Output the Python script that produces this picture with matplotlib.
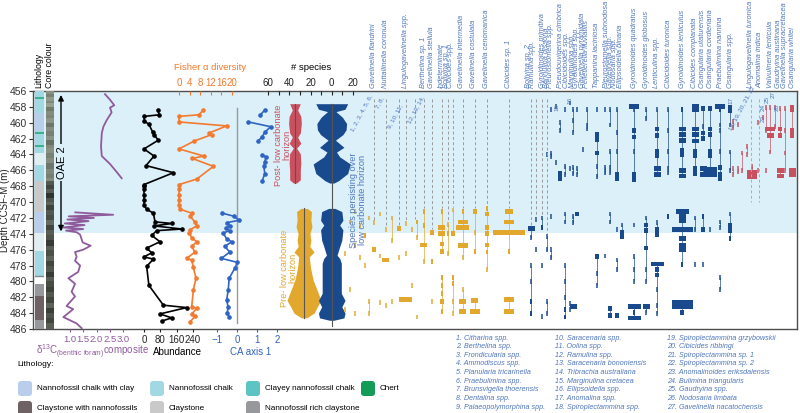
import numpy as np
import matplotlib
matplotlib.use("Agg")
import matplotlib.pyplot as plt
from matplotlib.patches import FancyBboxPatch

plt.rcParams['font.family'] = ['Liberation Sans', 'DejaVu Sans']
plt.rcParams['mathtext.fontset'] = 'custom'
plt.rcParams['mathtext.rm'] = 'Liberation Sans'

# colours
SHADE = '#dcf0f9'
PURPLE = '#8f5b9d'
ORANGE = '#f37a2e'
CA_BLUE = '#2f63c4'
RED = '#c9505f'
YELLOW = '#e2a72d'
NAVY = '#1a4a8e'
LABEL_BLUE = '#4f76bb'

W, H = 800, 413
TOP_PX, BOT_PX = 91, 329
D_TOP, D_BOT = 456, 486
OAE_BASE = 473.9

# ---------------- data ----------------
LITH_TOP = [456.0, 458.8, 461.1, 463.8, 465.3, 467.4, 471.3, 473.9, 476.2, 479.4, 480.3, 481.9, 484.9]
LITH_BOT = [458.8, 461.1, 463.8, 465.3, 467.4, 471.3, 473.9, 476.2, 479.4, 480.3, 481.9, 484.9, 486.0]
LITH_TYPE = ['chalk', 'chalk_clay', 'chalk', 'pale', 'chalk', 'claystone', 'chalk_clay',
             'pale', 'chalk', 'white', 'nrc', 'cwn', 'nrc']
CLAYEY_BANDS = [456.85, 461.3, 462.9]
LITH_COLORS = {'chalk_clay': '#b9cdec', 'chalk': '#a2d8e4', 'clayey': '#5cc5c3',
               'chert': '#139b58', 'cwn': '#6e6264', 'claystone': '#c9c9c9',
               'nrc': '#96989b', 'pale': '#e1eef0', 'white': '#ffffff'}
LITH_LEGEND = [("Nannofossil chalk with clay", 'chalk_clay'), ("Nannofossil chalk", 'chalk'),
               ("Clayey nannofossil chalk", 'clayey'), ("Chert", 'chert'),
               ("Claystone with nannofossils", 'cwn'), ("Claystone", 'claystone'),
               ("Nannofossil rich claystone", 'nrc')]

CORE_TOP = [456.0, 456.4, 456.7, 457.2, 457.5, 458.0, 458.5, 459.0, 459.4, 460.0,
            460.6, 461.1, 461.7, 462.2, 462.8, 463.2, 463.8, 464.5, 465.1, 465.8,
            466.4, 467.0, 467.3, 467.8, 468.3, 468.9, 469.5, 470.0, 470.4, 471.0,
            471.6, 472.2, 472.9, 473.5, 474.2, 474.8, 475.5, 476.1, 476.8, 477.4,
            478.1, 478.8, 479.4, 480.0, 480.7, 481.3, 482.0, 482.7, 483.3, 484.0,
            484.6, 485.3]
CORE_LIGHT = [0.62, 0.55, 0.66, 0.58, 0.68, 0.52, 0.60, 0.57, 0.64, 0.50,
              0.60, 0.55, 0.63, 0.48, 0.58, 0.62, 0.55, 0.60, 0.50, 0.58,
              0.54, 0.60, 0.38, 0.30, 0.40, 0.22, 0.36, 0.42, 0.28, 0.38,
              0.33, 0.45, 0.30, 0.40, 0.35, 0.25, 0.40, 0.34, 0.42, 0.30,
              0.37, 0.26, 0.40, 0.33, 0.28, 0.38, 0.30, 0.42, 0.27, 0.36,
              0.30, 0.40]

D13C_DEPTH = [456.4, 457.1, 457.8, 458.1, 458.7, 459.7, 460.5, 461.3, 463.0, 464.2, 465.2,
              466.2, 467.0, np.nan, 471.3, 471.6, 471.8, 472.0, 472.2, 472.4, 472.7, 472.9,
              473.2, 473.4, 473.6, 473.8, 474.1, 475.1, 475.5, 476.0, 476.3, 476.9, 477.4,
              478.0, 478.8, 479.6, 480.3, 481.3, 481.9, 483.1, 483.5, 484.5, 485.3, 485.9]
D13C_VAL = [2.32, 2.51, 2.67, 2.51, 2.57, 2.38, 2.26, 2.20, 2.17, 2.20, 2.51,
            2.76, 2.95, np.nan, 1.20, 2.63, 0.95, 1.90, 0.90, 1.70, 0.80, 1.55,
            0.75, 1.50, 0.85, 1.25, 1.38, 1.48, 1.78, 1.50, 1.19, 1.25, 1.19,
            1.38, 1.31, 0.94, 1.19, 1.06, 1.19, 0.87, 1.12, 0.75, 1.25, 1.44]

ABUND_DEPTH = [458.4, 459.0, 459.2, 459.8, 460.2, 461.2, 461.5, 462.2, 463.3, 464.2, 465.4,
               466.3, 467.8, 468.0, 468.4, 469.1, 469.7, 470.4, 470.9, 471.4, 472.5, 472.7,
               473.0, 473.4, 473.6, 474.2, 475.0, 475.8, 476.4, 476.9, 477.2, 478.1, 480.5,
               483.0, 483.3, 484.1, 484.6, 485.0]
ABUND_VAL = [67, 75, 0, 2, 24, 43, 49, 70, 0, 49, 10,
             144, 0, 0, 0, 0, 0, 0, 13, 46, 54, 139,
             49, 185, 62, 38, 78, 13, 38, 0, 46, 13, 24,
             95, 209, 78, 136, 87]

FISHER_DEPTH = [458.4, 459.0, 459.2, 459.9, 460.4, 461.3, 461.5, 462.3, 463.3, 464.2, 464.5,
                465.5, 467.1, 467.8, 468.3, 469.1, 469.7, 470.4, 470.9, 471.4, 471.8, 472.5,
                473.0, 473.5, 473.9, 474.5, 475.0, 475.6, 476.3, 477.1, 477.3, 478.2, 479.6,
                481.1, 483.2, 483.4, 484.1, 484.4, 485.1]
FISHER_VAL = [9.2, 7.5, 0, 0, 18, 11.3, 12.3, 5.8, 0, 9.4, 5.0,
              13.0, 6.7, 0, 0, 0, 0, 0, 0.4, 4.8, 4.2, 6.0,
              6.7, 4.2, 3.9, 4.8, 6.7, 4.8, 6.0, 2.9, 4.8, 5.4, 6.4,
              5.4, 4.8, 6.7, 4.8, 6.0, 4.2]

CA_DEPTH = [458.4, 459.0, np.nan, 459.9, 460.5, 461.2, 461.8, 462.3, np.nan, 464.1, 464.3,
            464.9, 465.5, 466.4, 467.4, np.nan, 471.4, 471.8, 472.3, 472.6, 473.0, 473.3,
            473.6, 473.9, 474.6, 475.0, 475.6, 476.3, 477.1, 477.6, 478.3, 479.6, 481.1,
            482.4, 483.2, 484.0, 484.5]
CA_VAL = [1.39, 1.17, np.nan, 0.57, 1.68, 1.39, 1.25, 1.05, np.nan, 1.25, 1.46,
          1.39, 1.34, 1.39, 1.25, np.nan, -0.73, -0.14, 0.10, -0.52, -0.36, -0.56,
          -0.36, -0.70, -0.52, -0.27, -0.61, -0.36, -0.78, 0.02, -0.10, -0.39, -0.44,
          -0.52, -0.44, -0.49, -0.39]

# number of species (kite diagrams)
BLUE_UP_DEPTH = [457.6, 458.3, 458.6, 459.3, 460.1, 460.9, 461.5, 462.2, 463.1, 463.7, 464.3,
                 465.2, 466.4, 467.3, 467.6]
BLUE_UP_N = [30, 25, 8, 20, 28, 27, 21, 7, 23, 9, 15, 35, 30, 13, 4]
BLUE_LO_DEPTH = [470.8, 471.2, 472.3, 472.9, 473.5, 474.8, 475.6, 476.7, 477.1, 477.7, 481.5,
                 482.4, 483.2, 484.0, 484.6, 484.9]
BLUE_LO_N = [6, 19, 21, 15, 21, 19, 15, 10, 15, 18, 18, 25, 19, 25, 23, 4]
RED_DEPTH = [457.6, 458.4, 459.2, 460.1, 461.3, 461.8, 462.6, 463.2, 463.9, 465.1, 466.0,
             467.2, 467.6]
RED_N = [10, 5, 11, 12, 10, 5, 11, 3, 10, 11, 10, 10, 3]
YEL_DEPTH = [470.8, 471.2, 472.3, 473.1, 474.0, 474.8, 475.6, 476.3, 476.9, 478.2, 479.8,
             481.5, 482.4, 483.2, 484.0, 484.6]
YEL_N = [6, 14, 13, 15, 11, 13, 11, 19, 10, 12, 17, 27, 32, 25, 19, 5]

# species occurrences: (depth, abundance class)
PRE_OCC = [
    [(476.5, 1), (483.5, 1)],
    [(472.5, 1), (481.0, 1)],
    [(471.2, 1), (475.5, 2), (484.0, 1)],
    [(473.0, 1), (477.0, 1)],
    [(474.2, 2), (478.0, 1)],
    [(472.0, 1), (482.5, 1), (484.0, 1)],
    [(472.6, 1), (476.0, 3)],
    [(471.5, 1), (476.8, 1), (482.7, 1)],
    [(473.5, 1), (477.3, 4), (483.0, 1)],
    [(472.0, 1), (474.8, 1), (482.5, 1)],
    [(473.3, 3), (477.0, 1)],
    [(472.7, 1), (476.5, 1), (482.3, 6)],
    [(473.5, 1), (480.5, 1)],
    [(472.5, 2), (474.5, 1), (484.5, 1)],
    [(471.2, 2), (473.0, 2), (475.4, 4), (477.5, 1)],
    [(473.8, 3), (477.5, 2), (482.5, 1)],
    [(471.2, 2), (473.2, 4), (474.0, 4), (475.3, 3), (476.2, 3), (479.5, 2), (480.5, 2),
     (481.5, 2), (482.5, 3), (483.8, 2)],
    [(472.8, 1), (474.0, 2), (476.5, 1)],
    [(471.0, 1), (474.0, 3), (479.5, 2), (480.3, 2), (482.5, 1), (484.0, 1)],
    [(471.2, 2), (472.5, 5), (473.2, 6), (475.5, 5), (477.0, 1), (481.0, 1), (482.5, 4),
     (483.8, 4)],
    [(471.2, 3), (473.8, 1), (476.2, 2), (482.4, 4), (483.8, 5)],
    [(470.8, 2), (471.5, 3), (473.2, 3), (474.0, 3), (475.4, 3), (476.3, 2), (478.5, 1)],
    [(471.2, 4), (472.5, 5), (473.8, 8), (476.2, 2), (482.3, 5), (483.8, 5)],
]
PERSIST_OCC = [
    [(473.3, 4), (474.5, 1), (478.0, 1), (480.0, 1), (482.5, 2), (484.0, 2)],
    [(472.2, 1), (476.0, 1)],
    [(472.0, 1), (473.2, 2), (478.0, 1), (484.4, 1)],
    [(464.0, 1), (474.3, 1), (476.0, 1), (482.5, 1), (484.0, 1)],
    [(458.3, 1), (463.8, 1), (464.3, 1), (471.8, 1), (476.0, 1), (477.0, 1)],
    [(458.0, 1), (465.0, 1)],
    [(460.0, 1), (461.0, 1), (466.4, 3), (467.0, 3)],
    [(458.3, 1), (465.5, 1), (466.5, 1), (471.5, 1), (472.5, 1), (478.0, 1), (480.0, 1),
     (482.0, 1), (483.5, 2), (484.5, 2)],
    [(457.5, 1), (465.8, 1), (482.8, 1), (483.5, 1)],
    [(458.3, 1), (459.7, 1), (461.2, 1), (465.6, 1), (466.4, 1), (471.8, 1), (472.6, 1),
     (483.2, 4)],
    [(458.3, 1), (465.8, 1), (466.5, 1), (471.5, 3)],
    [(463.4, 1)],
    [(458.3, 1), (460.3, 1), (460.8, 1)],
    [(458.3, 1), (461.5, 3), (462.1, 3), (463.8, 3), (465.5, 1), (466.8, 1), (476.9, 3),
     (479.0, 1), (480.5, 1)],
    [(458.3, 1), (465.6, 1), (466.3, 1), (476.8, 1)],
    [(458.3, 1), (460.3, 1), (463.6, 1), (465.6, 1), (466.3, 1), (471.5, 1), (472.5, 1),
     (483.4, 3), (484.3, 3)],
    [(458.3, 1), (461.2, 1), (463.6, 1), (466.5, 3), (467.0, 3), (473.5, 1), (477.3, 1),
     (478.5, 1), (484.3, 3)],
    [(472.9, 1), (473.8, 3), (474.3, 3)],
    [(458.0, 5), (458.4, 1), (461.0, 3), (461.8, 3), (463.6, 1), (466.5, 3), (467.2, 3),
     (472.9, 1), (476.9, 1), (478.5, 1), (480.0, 1), (483.2, 6), (483.9, 2), (484.6, 6)],
    [(458.3, 1), (459.5, 1), (472.0, 1), (472.9, 3), (473.6, 3), (475.8, 3), (478.5, 1),
     (480.0, 1), (483.2, 4), (483.9, 1)],
    [(458.3, 1), (460.8, 3), (461.6, 3), (463.6, 3), (464.2, 3), (465.8, 4), (466.5, 4),
     (472.6, 1), (473.5, 3), (474.1, 3), (477.8, 6), (478.5, 3), (479.2, 3), (481.0, 1),
     (483.0, 1), (484.0, 1)],
    [(458.3, 1), (461.0, 1), (463.6, 1), (465.7, 1), (466.3, 1), (471.8, 2)],
    [(458.3, 2), (460.8, 4), (461.5, 4), (462.2, 4), (463.5, 3), (464.0, 3), (466.0, 4),
     (466.7, 4), (471.2, 6), (471.8, 4), (472.4, 4), (473.5, 7), (474.6, 4), (475.5, 4),
     (476.0, 4), (477.9, 2), (482.6, 7), (483.2, 7), (483.9, 3)],
    [(458.0, 4), (458.4, 4), (460.8, 4), (461.5, 4), (462.3, 4), (463.6, 3), (464.2, 3),
     (465.8, 3), (466.4, 3), (472.0, 1), (473.5, 1), (477.9, 1)],
    [(458.2, 3), (460.5, 1), (461.3, 3), (462.0, 3), (465.8, 4), (466.5, 4), (471.8, 2),
     (473.5, 3), (477.9, 1)],
    [(458.2, 3), (460.8, 3), (461.5, 3), (463.6, 3), (464.2, 3), (465.9, 6), (466.5, 6),
     (473.5, 1)],
    [(458.0, 5), (458.4, 2), (460.3, 1), (461.0, 1), (463.6, 1), (465.6, 3), (466.5, 3),
     (467.1, 3), (472.5, 1), (473.2, 1), (479.5, 1), (481.0, 1)],
    [(458.1, 3), (458.5, 3), (460.3, 1), (463.7, 1), (466.0, 1), (471.5, 1), (473.0, 3),
     (473.6, 3), (474.6, 2)],
]
POST_OCC = [
    [(459.8, 1), (460.6, 1), (465.8, 1), (466.5, 1)],
    [(460.2, 1), (465.7, 1), (466.2, 1)],
    [(463.8, 1), (466.0, 1)],
    [(463.0, 1), (464.0, 1)],
    [(465.5, 1), (466.2, 5), (466.8, 5)],
    [(460.0, 1), (466.0, 1)],
    [(459.3, 1)],
    [(458.1, 1), (461.0, 1), (466.0, 1)],
    [(458.1, 1), (460.8, 5), (461.6, 4), (463.7, 1)],
    [(458.1, 1), (460.5, 1)],
    [(458.2, 1), (460.8, 3), (461.6, 3), (466.0, 4), (466.7, 4)],
    [(458.2, 1), (461.0, 1), (463.8, 1), (466.0, 1)],
    [(458.1, 3), (458.4, 3), (461.0, 3), (461.6, 3), (466.0, 4), (466.6, 4)],
]

SPECIES_LABELS = [
    "Gavelinella flandrini", "Nuttallinella coronula", "Lingulogavelinella spp.",
    "Berthelina sp. 1", "Gavelinella stellula", "Indeterminate", "Bolivina sp. 1",
    "Cibicides spp.", "Gavelinella intermedia", "Gavelinella costulata",
    "Gavelinella cenomanica", "Cibicides sp. 1", "Bolivina sp. 2", "Ramulina spp.",
    "Gyroidinoides primitiva", "Bannulina dissona", "Pleurostomella spp.",
    "Pseudouvigerina cimbrica", "Cibicidoides spp.", "Marginulina spp.",
    "Gyroidinoides spp.", "Gavelinella pyramidata", "Pelletierella fluviatilis",
    "Tappanina laciniosa", "Pleurostomella subnodosa", "Gavelinella spp.",
    "Nodosaria spp.", "Ellipsoidella binaria", "Gyroidinoides quadratus",
    "Gyroidinoides globosus", "Lenticulina spp.", "Cibicidoides turonica",
    "Gyroidinoides lenticulus", "Cibicides complanata", "Osangularia utaturensis",
    "Osangularia cordieriana", "Praebulimina nannina", "Osangularia spp.",
    "Lingulogavelinella turonica", "Anomalina indica", "Valvulineria lenticula",
    "Gaudryina austinana", "Gavelinella supracretacea", "Osangularia whitei",
]
NUMBERED_SPECIES = [
    "Citharina spp.", "Berthelina spp.", "Frondicularia spp.", "Ammodiscus spp.",
    "Planularia tricarinella", "Praebulimina spp.", "Brunsvigella thoerensis",
    "Dentalina spp.", "Palaeopolymorphina spp.", "Saracenaria spp.", "Oolina spp.",
    "Ramulina spp.", "Saracenaria bononiensis", "Tribrachia australiana",
    "Marginulina cretacea", "Ellipsoidella spp.", "Anomalina spp.",
    "Spiroplectammina spp.", "Spiroplectammina grzybowskii", "Cibicides ribbingi",
    "Spiroplectammina sp. 1", "Spiroplectammina sp. 2", "Anomalinoides eriksdalensis",
    "Bulimina triangularis", "Gaudryina spp.", "Nodosaria limbata",
    "Gavelinella nacatochensis",
]
NUMBER_TAGS = ["1, 2, 3, 4, 5, 6,", "7, 8,", "9, 10, 11,", "12, 13, 14,", "15", "16", "17",
               "18, 19, 20, 21, 22", "23", "24", "25", "26", "27"]

# ---------------- layout ----------------
PRE_X = [345, 350, 355, 360, 365, 369, 374, 380, 386, 392, 399, 406, 412, 417, 424, 432,
         442, 448, 453, 463, 475, 487, 509]
PERSIST_X = [531, 536, 542, 547, 551, 556, 560, 565, 570, 573, 577, 583, 587, 597, 605, 610,
             617, 622, 634, 646, 657, 668, 682, 695, 703, 710, 720, 730]
POST_X = [733, 738, 742, 747, 752, 758, 763, 766, 770, 775, 780, 785, 792]
LABEL_X = [374, 386, 406, 424, 432, 441, 447, 451, 462, 474, 487, 509, 528, 533, 542, 546,
           551, 561, 566, 573, 577, 583, 587, 597, 606, 610, 614, 621, 634, 646, 657, 668,
           682, 695, 703, 711, 720, 730, 751, 760, 770, 779, 785, 793]
DASH_X = [374, 386, 399, 406, 415, 424, 432, 442, 448, 453, 463, 475, 487, 509, 531, 536,
          542, 547]
TAG_POS = [(362, 113, 62), (380, 103, 62), (395, 116, 62), (416, 110, 62), (557, 107, 90),
           (570, 100, 90), (731, 100, 90), (742, 108, 62), (763, 118, 90), (763, 107, 90),
           (767, 99, 90), (777, 107, 90), (773, 95, 90)]
CLASS_W = {1: 1.3, 2: 2.8, 3: 4.5, 4: 7, 5: 10, 6: 13, 7: 21, 8: 31}
BAR_H = 0.6
KITE_RED_C, KITE_YEL_C, KITE_BLUE_C = -34.6, -26.1, 0.0

fig = plt.figure(figsize=(W / 100, H / 100), dpi=100)


def axes_px(x0, x1, z=1):
    ax = fig.add_axes([x0 / W, 1 - BOT_PX / H, (x1 - x0) / W, (BOT_PX - TOP_PX) / H], zorder=z)
    ax.set_ylim(D_BOT, D_TOP)
    return ax


def bare(ax):
    ax.patch.set_alpha(0)
    for s in ax.spines.values():
        s.set_visible(False)
    ax.set_yticks([])
    return ax


def track(x0, x1, ref_px, ref_val, z=3):
    ax = bare(axes_px(x0, x1, z=z))
    k = (ref_val[1] - ref_val[0]) / (ref_px[1] - ref_px[0])
    ax.set_xlim(ref_val[0] + (x0 - ref_px[0]) * k, ref_val[0] + (x1 - ref_px[0]) * k)
    return ax


# main frame
ax0 = axes_px(33, 797, z=0)
ax0.set_xlim(0, 1)
ax0.axhspan(D_TOP, OAE_BASE, color=SHADE, lw=0)
ax0.set_xticks([])
ax0.set_yticks(np.arange(456, 487, 2))
ax0.tick_params(axis='y', length=3, width=0.8, labelsize=7.5, pad=1.5, colors='#333333')
for s in ax0.spines.values():
    s.set_color('#4d4d4d')
    s.set_linewidth(1.0)
ax0.set_ylabel('Depth CCSF-M (m)', fontsize=7, color='#222222')
ax0.yaxis.set_label_coords(-23 / 764, 0.5)

# lithology
ax_l = axes_px(35, 44, z=2)
ax_l.set_xlim(0, 1)
ax_l.axis('off')
for t, b, k in zip(LITH_TOP, LITH_BOT, LITH_TYPE):
    ax_l.bar(0.5, b - t, width=1, bottom=t, color=LITH_COLORS[k], lw=0)
for d in CLAYEY_BANDS:
    ax_l.axhline(d, color='#2aa87a', lw=1.2)
ax_l.axhline(479.3, color='#7c8c8f', lw=1.0)

# core colour
ax_c = axes_px(46, 54, z=2)
ax_c.set_xlim(0, 1)
ax_c.axis('off')
core_bot = CORE_TOP[1:] + [D_BOT]
tint = np.array([0.86, 0.92, 0.83])
for t, b, v in zip(CORE_TOP, core_bot, CORE_LIGHT):
    ax_c.bar(0.5, b - t, width=1, bottom=t, color=np.clip(tint * v, 0, 1), lw=0)

# OAE 2 arrow
ax_a = bare(axes_px(55, 70, z=2))
ax_a.set_xlim(0, 1)
ax_a.set_xticks([])
ax_a.annotate('', xy=(0.4, 456.5), xytext=(0.4, 473.7),
              arrowprops=dict(arrowstyle='<|-|>', color='black', lw=1.0, mutation_scale=8,
                              shrinkA=0, shrinkB=0))
ax_a.text(0.45, 465.0, 'OAE 2', rotation=90, ha='center', va='center', fontsize=8,
          bbox=dict(facecolor=SHADE, edgecolor='none', pad=1.5))

# d13C
ax_d = track(56, 136, (70, 123), (1.0, 3.0))
ax_d.plot(D13C_VAL, D13C_DEPTH, color=PURPLE, lw=1.3)
ax_d.set_xticks([1.0, 1.5, 2.0, 2.5, 3.0])
ax_d.set_xticklabels(['1.0', '1.5', '2.0', '2.5', '3.0'])
ax_d.tick_params(axis='x', colors=PURPLE, labelsize=6.8, length=2.5, pad=1.5)

# abundance
ax_ab = track(140, 196, (144, 193), (0, 240))
ax_ab.plot(ABUND_VAL, ABUND_DEPTH, color='black', lw=1.2, marker='o', ms=2.3)
ax_ab.set_xticks([0, 80, 160, 240])
ax_ab.tick_params(axis='x', colors='#222222', labelsize=7.0, length=2.5, pad=1.5)

# Fisher alpha
ax_f = track(172, 236, (179, 232), (0, 20), z=4)
ax_f.plot(FISHER_VAL, FISHER_DEPTH, color=ORANGE, lw=1.2, marker='o', ms=2.3)
ax_f.xaxis.tick_top()
ax_f.set_xticks([0, 4, 8, 12, 16, 20])
ax_f.tick_params(axis='x', colors=ORANGE, labelsize=7.0, length=3, pad=2, direction='in')

# CA axis 1
ax_ca = track(212, 284, (217, 277), (-1, 2))
ax_ca.plot([0, 0], [458.2, 485.2], color='#9a9a9a', lw=1.0)
ax_ca.plot(CA_VAL, CA_DEPTH, color=CA_BLUE, lw=1.2, marker='o', ms=2.3)
ax_ca.set_xticks([-1, 0, 1, 2])
ax_ca.tick_params(axis='x', colors=CA_BLUE, labelsize=7.0, length=2.5, pad=1.5)

# number of species kites
ax_k = track(262, 362, (268, 353), (-60, 20))
ax_k.xaxis.tick_top()
ax_k.set_xticks(np.arange(-60, 21, 10))
ax_k.set_xticklabels(['60', '', '40', '', '20', '', '0', '', '20'])
ax_k.tick_params(axis='x', colors='#222222', labelsize=7.0, length=3, pad=2, direction='in')
for dep, n, c, col in [(RED_DEPTH, RED_N, KITE_RED_C, RED), (YEL_DEPTH, YEL_N, KITE_YEL_C, YELLOW),
                       (BLUE_UP_DEPTH, BLUE_UP_N, KITE_BLUE_C, NAVY),
                       (BLUE_LO_DEPTH, BLUE_LO_N, KITE_BLUE_C, NAVY)]:
    half = np.array(n) / 2
    ax_k.fill_betweenx(dep, c - half, c + half, color=col, lw=0)
    ax_k.plot([c, c], [dep[0], dep[-1]], color='#555555', lw=0.8)
ax_k.plot([KITE_BLUE_C] * 2, [BLUE_UP_DEPTH[0], 485.6], color='#555555', lw=0.8)

# range chart
ax_r = bare(axes_px(338, 797, z=3))
ax_r.set_xlim(338, 797)
ax_r.set_xticks([])

all_cols = list(zip(PRE_X, PRE_OCC)) + list(zip(PERSIST_X, PERSIST_OCC))
for x in DASH_X:
    lower = [d for cx, occ in all_cols if abs(cx - x) <= 3 for d, _ in occ if d > 468]
    end = min(lower) - 0.4 if lower else 470.8
    ax_r.plot([x, x], [457.0, end], color='#9a9a9a', lw=0.7, ls=(0, (3, 2.5)))
for x in [751, 759]:
    ax_r.plot([x, x], [457.0, 470.0], color='#b8a6ad', lw=0.7, ls=(0, (3, 2.5)))


def draw_ranges(xs, occs, color):
    for x, occ in zip(xs, occs):
        d = sorted(o[0] for o in occ)
        for a, b in zip(d[:-1], d[1:]):
            if b - a <= 3.0:
                ax_r.plot([x, x], [a, b], color=color, lw=0.7, alpha=0.7,
                          solid_capstyle='butt')
        for depth, cls in occ:
            ax_r.bar(x, BAR_H, width=CLASS_W[cls], bottom=depth - BAR_H / 2, color=color,
                     alpha=1.0 if cls > 1 else 0.75, lw=0)


draw_ranges(PRE_X, PRE_OCC, YELLOW)
draw_ranges(PERSIST_X, PERSIST_OCC, NAVY)
draw_ranges(POST_X, POST_OCC, RED)

xt = ax_r.get_xaxis_transform()
for name, x in zip(SPECIES_LABELS, LABEL_X):
    ax_r.text(x, 1.013, name, transform=xt, rotation=90, ha='center', va='bottom',
              fontsize=5.3, style='italic', color=LABEL_BLUE, clip_on=False)

# overlay for free text and legends
ov = fig.add_axes([0, 0, 1, 1], zorder=10)
ov.set_xlim(0, W)
ov.set_ylim(H, 0)
ov.axis('off')

for tag, (x, y, rot) in zip(NUMBER_TAGS, TAG_POS):
    ov.text(x, y, tag, rotation=rot, ha='center', va='center', fontsize=4.6,
            color=LABEL_BLUE)

ov.text(39, 88, 'Lithology', rotation=90, ha='center', va='bottom', fontsize=6.3)
ov.text(50, 88, 'Core colour', rotation=90, ha='center', va='bottom', fontsize=6.3)
ov.text(210, 67, 'Fisher α diversity', ha='center', va='center', fontsize=6.8, color=ORANGE)
ov.text(311, 68, '# species', ha='center', va='center', fontsize=6.8)
ov.text(93, 352, r'δ$^{13}$C$_{\mathregular{(benthic\ foram)}}$composite', ha='center',
        va='center', fontsize=7, color=PURPLE)
ov.text(177, 352, 'Abundance', ha='center', va='center', fontsize=7)
ov.text(251, 352, 'CA axis 1', ha='center', va='center', fontsize=7, color=CA_BLUE)
ov.text(283, 145, 'Post- low carbonate\nhorizon', rotation=90, ha='center', va='center',
        fontsize=6.6, color=RED, linespacing=0.95)
ov.text(289, 268, 'Pre- low carbonate\nhorizon', rotation=90, ha='center', va='center',
        fontsize=6.6, color=YELLOW, linespacing=0.95)
ov.text(358, 200, 'Species persisting over\nlow carbonate horizon', rotation=90, ha='center',
        va='center', fontsize=6.6, color=LABEL_BLUE, linespacing=0.95)

# lithology legend
ov.text(17, 364, 'Lithology:', ha='left', va='center', fontsize=6)
leg_x = [18, 150, 246, 361, 18, 150, 246]
leg_y = [381, 381, 381, 381, 401, 401, 401]
for (label, key), x, y in zip(LITH_LEGEND, leg_x, leg_y):
    ov.add_patch(FancyBboxPatch((x, y), 14, 15, boxstyle='round,pad=0,rounding_size=3',
                                facecolor=LITH_COLORS[key], edgecolor='none'))
    ov.text(x + 19, y + 7.5, label, ha='left', va='center', fontsize=5.9)

# numbered species legend
for i, name in enumerate(NUMBERED_SPECIES):
    col, row = divmod(i, 9)
    ov.text([456, 555, 667][col], 338 + row * 8.65, f'{i + 1}. {name}', ha='left',
            va='center', fontsize=5.1, style='italic', color=LABEL_BLUE)

fig.savefig('out.png', dpi=100)
